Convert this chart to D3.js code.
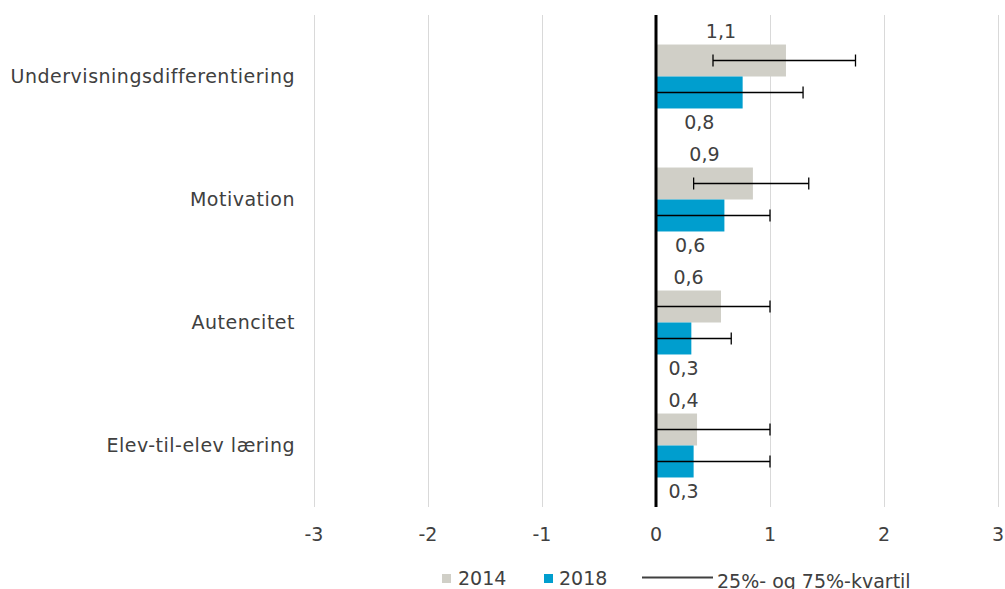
<!DOCTYPE html>
<html>
<head>
<meta charset="utf-8">
<script src="https://cdn.jsdelivr.net/npm/d3@7"></script>
<style>
  body { margin: 0; background: #fff; }
  text { font-family: "DejaVu Sans", Verdana, sans-serif; fill: #404040; }
</style>
</head>
<body>
<svg id="chart" width="1005" height="589"></svg>
<script>
var categories = ["Undervisningsdifferentiering", "Motivation", "Autencitet", "Elev-til-elev læring"]
var years = ["2014", "2018"]
var values2014 = [1.14, 0.85, 0.57, 0.36]
var values2018 = [0.76, 0.60, 0.31, 0.33]
var labels2014 = ["1,1", "0,9", "0,6", "0,4"]
var labels2018 = ["0,8", "0,6", "0,3", "0,3"]
var low2014 = [0.50, 0.33, 0, 0]
var high2014 = [1.75, 1.34, 1.0, 1.0]
var low2018 = [0, 0, 0, 0]
var high2018 = [1.29, 1.0, 0.66, 1.0]
var xTicks = [-3, -2, -1, 0, 1, 2, 3]
var colors = {"2014": "#d0cfc7", "2018": "#009ece"}

var svg = d3.select("#chart")
var plotTop = 15, plotBottom = 507
var fs = "19px"

var x = d3.scaleLinear().domain([-3, 3]).range([314, 998])
var y = d3.scaleBand().domain(categories).range([plotTop, plotBottom])
          .paddingInner(0.48).paddingOuter(0.24)
var ySub = d3.scaleBand().domain(years).range([0, y.bandwidth()])

// gridlines
svg.append("g").selectAll("line").data(xTicks.filter(function(d){ return d != 0 })).enter()
   .append("line")
   .attr("x1", function(d){ return Math.round(x(d)) + 0.5 })
   .attr("x2", function(d){ return Math.round(x(d)) + 0.5 })
   .attr("y1", plotTop).attr("y2", plotBottom)
   .attr("stroke", "#d9d9d9").attr("stroke-width", 1)

// tick labels
svg.append("g").selectAll("text").data(xTicks).enter()
   .append("text")
   .attr("x", function(d){ return x(d) })
   .attr("y", 541)
   .attr("text-anchor", "middle")
   .attr("font-size", fs)
   .text(function(d){ return d < 0 ? "-" + Math.abs(d) : d })

// rows
var rows = categories.map(function(c, i){
  return [
    {cat: c, year: "2014", v: values2014[i], label: labels2014[i], lo: low2014[i], hi: high2014[i]},
    {cat: c, year: "2018", v: values2018[i], label: labels2018[i], lo: low2018[i], hi: high2018[i]}
  ]
})
var flat = [].concat.apply([], rows)

var bars = svg.append("g")
bars.selectAll("rect").data(flat).enter()
    .append("rect")
    .attr("x", x(0))
    .attr("y", function(d){ return y(d.cat) + ySub(d.year) })
    .attr("width", function(d){ return x(d.v) - x(0) })
    .attr("height", ySub.bandwidth())
    .attr("fill", function(d){ return colors[d.year] })

// error bars (25%/75% quartiles)
var err = svg.append("g")
flat.forEach(function(d){
  var cy = y(d.cat) + ySub(d.year) + ySub.bandwidth() / 2
  err.append("line")
     .attr("x1", x(d.lo)).attr("x2", x(d.hi))
     .attr("y1", cy).attr("y2", cy)
     .attr("stroke", "#000").attr("stroke-width", 1.3)
  ;[d.lo, d.hi].forEach(function(v){
    err.append("line")
       .attr("x1", x(v)).attr("x2", x(v))
       .attr("y1", cy - 6).attr("y2", cy + 6)
       .attr("stroke", "#000").attr("stroke-width", 1.3)
  })
})

// zero axis
svg.append("line")
   .attr("x1", x(0)).attr("x2", x(0))
   .attr("y1", plotTop).attr("y2", plotBottom)
   .attr("stroke", "#000").attr("stroke-width", 3)

// value labels (kept clear of the zero axis on short bars)
svg.append("g").selectAll("text").data(flat).enter()
   .append("text")
   .attr("x", function(d){ return Math.max((x(0) + x(d.v)) / 2, x(0) + 27.5) })
   .attr("y", function(d){
     var top = y(d.cat) + ySub(d.year)
     return d.year == "2014" ? top - 7 : top + ySub.bandwidth() + 21
   })
   .attr("text-anchor", "middle")
   .attr("font-size", fs)
   .text(function(d){ return d.label })

// category labels
svg.append("g").selectAll("text").data(categories).enter()
   .append("text")
   .attr("x", 295)
   .attr("y", function(d){ return y(d) + y.bandwidth() / 2 })
   .attr("dy", "0.35em")
   .attr("text-anchor", "end")
   .attr("font-size", fs)
   .attr("letter-spacing", "0.5px")
   .text(function(d){ return d })

// legend
var legend = svg.append("g")
legend.append("rect").attr("x", 442).attr("y", 574).attr("width", 9).attr("height", 9).attr("fill", colors["2014"])
legend.append("text").attr("x", 458).attr("y", 585).attr("font-size", fs).text("2014")
legend.append("rect").attr("x", 544).attr("y", 574).attr("width", 9).attr("height", 9).attr("fill", colors["2018"])
legend.append("text").attr("x", 559).attr("y", 585).attr("font-size", fs).text("2018")
legend.append("line").attr("x1", 642).attr("x2", 713).attr("y1", 577.5).attr("y2", 577.5)
      .attr("stroke", "#404040").attr("stroke-width", 1.8)
legend.append("text").attr("x", 717).attr("y", 588).attr("font-size", fs).text("25%- og 75%-kvartil")
</script>
</body>
</html>
